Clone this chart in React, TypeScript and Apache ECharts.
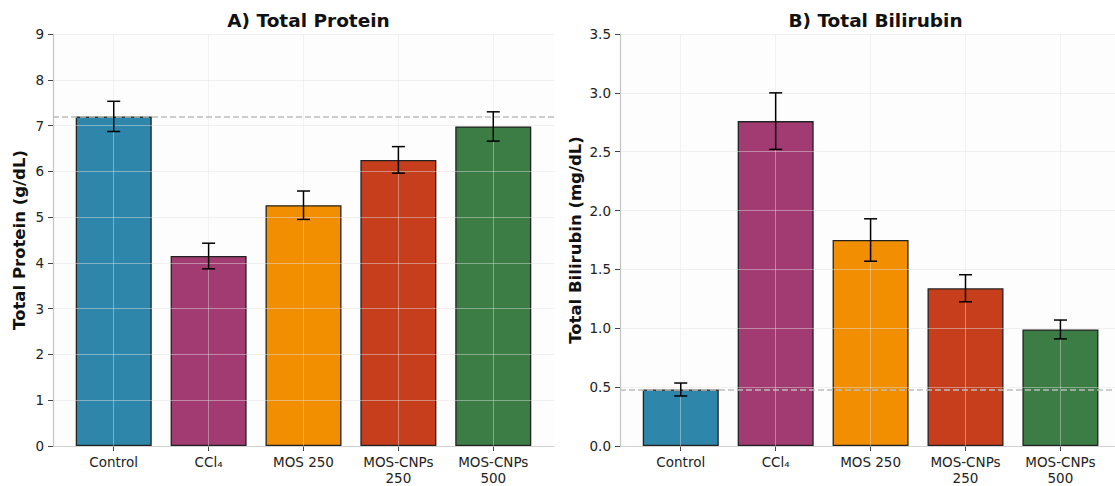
import React, { useEffect, useRef } from "react";
import * as echarts from "echarts";

const categories = ["Control", "CCl₄", "MOS 250", "MOS-CNPs\n250", "MOS-CNPs\n500"];
const colors = ["#2E86AB", "#A23B72", "#F18F01", "#C73E1D", "#3B7D44"];
const proteinValues = [7.2, 4.15, 5.26, 6.25, 6.98];
const proteinErrors = [0.33, 0.28, 0.31, 0.29, 0.32];
const bilirubinValues = [0.48, 2.76, 1.75, 1.34, 0.99];
const bilirubinErrors = [0.055, 0.24, 0.18, 0.115, 0.08];
const proteinTicks = { min: 0, max: 9, interval: 1 };
const bilirubinTicks = { min: 0, max: 3.5, interval: 0.5 };

const FONT = "DejaVu Sans";

function panel(idx: number, title: string, yName: string, values: number[], errors: number[], ticks: any, decimals: number, left: number, width: number, xMax: number, nameGap: number) {
  const gridIndex = idx;
  const grid = { left, top: 34, width, bottom: 39, containLabel: false, backgroundColor: "#fdfdfd", show: true, borderWidth: 0 };
  const xAxis = {
    type: "value", gridIndex, min: -0.64, max: xMax,
    axisLine: { show: true, onZero: false, lineStyle: { color: "#c4c4c4", width: 1.2 } },
    axisTick: { show: true, customValues: [0, 1, 2, 3, 4], length: 5, lineStyle: { color: "#444" } },
    axisLabel: { customValues: [0, 1, 2, 3, 4], formatter: (v: number) => categories[Math.round(v)] ?? "", fontFamily: FONT, fontSize: 13.5, color: "#222", lineHeight: 16, margin: 8 },
    splitLine: { show: false },
  };
  const yAxis = {
    type: "value", gridIndex, min: ticks.min, max: ticks.max, interval: ticks.interval, z: 3,
    name: yName, nameLocation: "middle", nameGap,
    nameTextStyle: { fontFamily: FONT, fontSize: 16.5, fontWeight: "bold", color: "#111" },
    axisLine: { show: true, onZero: false, lineStyle: { color: "#c4c4c4", width: 1.2 } },
    axisTick: { show: true, length: 5, lineStyle: { color: "#444" } },
    axisLabel: { fontFamily: FONT, fontSize: 13.5, color: "#222", margin: 9, formatter: (v: number) => v.toFixed(decimals) },
    splitLine: { show: true, lineStyle: { color: "rgba(225,225,225,0.6)", width: 0.8 } },
  };
  const barData = values.map((v, i) => ({ value: [i, v], itemStyle: { color: colors[i] } }));
  const series = [
    {
      type: "bar", xAxisIndex: idx, yAxisIndex: idx, data: barData, barWidth: 76, z: 2,
      itemStyle: { borderColor: "#222", borderWidth: 1.3 },
    },
    {
      type: "line", xAxisIndex: idx, yAxisIndex: idx, data: [], z: 4, silent: true,
      markLine: {
        symbol: "none", silent: true, label: { show: false },
        lineStyle: { color: "rgba(228,228,228,0.55)", width: 0.8, type: "solid" },
        data: [0, 1, 2, 3, 4].map((x) => ({ xAxis: x })),
      },
    },
    {
      type: "line", xAxisIndex: idx, yAxisIndex: idx, data: [], z: 5, silent: true,
      markLine: {
        symbol: "none", silent: true, label: { show: false },
        lineStyle: { color: "#bdbdbd", width: 1.5, type: [6, 3] },
        data: [{ yAxis: values[0] }],
      },
    },
    {
      type: "custom", xAxisIndex: idx, yAxisIndex: idx, z: 10, silent: true,
      data: values.map((v, i) => [i, v, errors[i]]),
      renderItem: (params: any, api: any) => {
        const x = api.value(0), v = api.value(1), e = api.value(2);
        const top = api.coord([x, v + e]);
        const bot = api.coord([x, v - e]);
        const s = { stroke: "#000", lineWidth: 1.5 };
        return {
          type: "group",
          children: [
            { type: "line", shape: { x1: top[0], y1: top[1], x2: bot[0], y2: bot[1] }, style: s },
            { type: "line", shape: { x1: top[0] - 6.5, y1: top[1], x2: top[0] + 6.5, y2: top[1] }, style: s },
            { type: "line", shape: { x1: bot[0] - 6.5, y1: bot[1], x2: bot[0] + 6.5, y2: bot[1] }, style: s },
          ],
        };
      },
    },
  ];
  const titleObj = {
    text: title, left: left + 250.5, top: 6, textAlign: "center",
    textStyle: { fontFamily: FONT, fontSize: 18.5, fontWeight: "bold", color: "#111" },
  };
  return { grid, xAxis, yAxis, series, titleObj };
}

export default function App() {
  const ref = useRef<HTMLDivElement>(null);
  useEffect(() => {
    document.body.style.margin = "0";
    const chart = echarts.init(ref.current!, null, { renderer: "svg" });
    const a = panel(0, "A) Total Protein", "Total Protein (g/dL)", proteinValues, proteinErrors, proteinTicks, 0, 53, 501, 4.64, 25);
    const b = panel(1, "B) Total Bilirubin", "Total Bilirubin (mg/dL)", bilirubinValues, bilirubinErrors, bilirubinTicks, 1, 620, 495, 4.575, 36);
    chart.setOption({
      animation: false,
      backgroundColor: "#ffffff",
      title: [a.titleObj, b.titleObj],
      grid: [a.grid, b.grid],
      xAxis: [a.xAxis, b.xAxis],
      yAxis: [a.yAxis, b.yAxis],
      series: [...a.series, ...b.series],
    });
    return () => chart.dispose();
  }, []);
  return <div ref={ref} style={{ width: 1115, height: 486 }} />;
}
